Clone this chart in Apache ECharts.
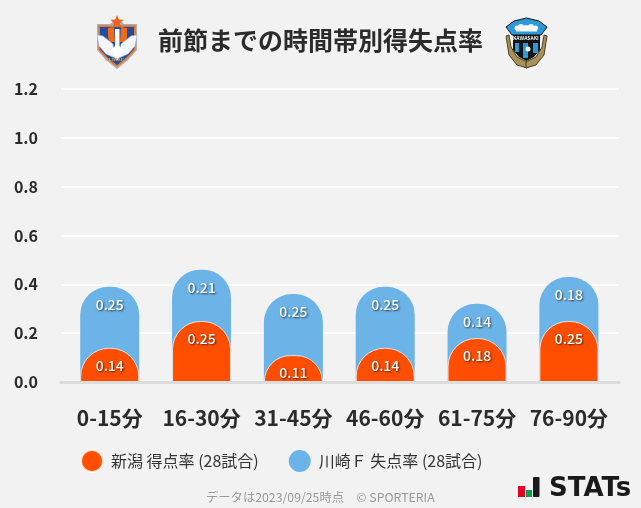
<!DOCTYPE html>
<html><head><meta charset="utf-8">
<style>html,body{margin:0;padding:0;background:#f2f2f2}#c{width:641px;height:508px}</style>
<script src="https://cdn.jsdelivr.net/npm/echarts@6/dist/echarts.min.js"></script></head>
<body><div id="c"></div>
<script>
const categories = ['0-15分','16-30分','31-45分','46-60分','61-75分','76-90分'];
const scored = [0.14,0.25,0.11,0.14,0.18,0.25];
const conceded = [0.25,0.21,0.25,0.25,0.14,0.18];
const scoredName = '新潟 得点率 (28試合)';
const concededName = '川崎Ｆ 失点率 (28試合)';
const ORANGE='#ff4e00', BLUE='#6cb4e8';
const FONT='"Noto Sans CJK JP","Noto Sans",sans-serif';
const stackedTop = conceded.map((v,i)=>+(v+scored[i]).toFixed(2));
const label = (fmt)=>({show:true,position:'insideTop',distance:11,color:'#fff',fontFamily:FONT,fontSize:14,fontWeight:500,
  textShadowColor:'rgba(0,0,0,0.65)',textShadowBlur:2,textShadowOffsetX:1,textShadowOffsetY:1,formatter:fmt});
const poly=(pts,fill,stroke,lw)=>({type:'polygon',silent:true,shape:{points:pts},style:{fill:fill,stroke:stroke||null,lineWidth:lw||0}});
const mirror=(pts,cx)=>pts.map(p=>[2*cx-p[0],p[1]]);
const star=(cx,cy,R,r)=>{const a=[];for(let i=0;i<10;i++){const t=-Math.PI/2+i*Math.PI/5,q=i%2?r:R;a.push([cx+q*Math.cos(t),cy+q*Math.sin(t)]);}return a;};
const dot=(cx,cy,r,fill)=>({type:'circle',silent:true,shape:{cx:cx,cy:cy,r:r},style:{fill:fill}});
const box=(x,y,w,h,fill)=>({type:'rect',silent:true,shape:{x:x,y:y,width:w,height:h},style:{fill:fill}});
const wingL=[[97,35],[103,36],[113,44],[115,58],[106,54],[99,46]];
const blobL=[[108,28],[114,27],[115,42],[110,42],[108,38]];
const niigata=[
  poly([[97,24],[110,24],[117,18],[124,24],[137,24],[137,50],[128,60],[117,69],[106,60],[97,50]],'#a9adb5'),
  poly([[98.5,25.5],[135.5,25.5],[135.5,50],[127,59],[117,67],[107,59],[98.5,50]],'#f0701e'),
  poly([[100,27],[134,27],[134,49],[126,58],[117,65],[108,58],[100,49]],'#1f4f9f'),
  poly(star(117,22,7,3),'#f0601a'),
  poly(blobL,'#ef6a1c'),
  poly(mirror(blobL,117.5),'#ef6a1c'),
  poly(wingL,'#f4f6fb','#9db4d8',0.6),
  poly(mirror(wingL,117),'#f4f6fb','#9db4d8',0.6),
  poly([[115,29],[119.5,29],[119.5,46],[123,50],[118,60],[116,60],[111,50],[115,46]],'#ffffff'),
  {type:'text',silent:true,left:105,top:57,style:{text:'ALBIREX',fontFamily:'"Liberation Serif",serif',fontWeight:700,fontSize:5,fill:'#c8a45c'}}
];
const wreathL=[[506,36],[509,35],[511,47],[517,57],[527,62],[527,68],[517,65],[509,55]];
const kawasaki=[
  poly(wreathL,'#a8925a','#4b3f22',1),
  poly(mirror(wreathL,526.5),'#a8925a','#4b3f22',1),
  poly([[513,33],[540,33],[540,50],[534,57],[526.5,61],[519,57],[513,50]],'#141414'),
  box(515,43,4,9,'#2d9ad6'),
  box(523,43,5,15,'#2d9ad6'),
  box(533,43,5,10,'#2d9ad6'),
  dot(528,49,2.5,'#f4f4f4'),
  poly([[506,27],[514,21],[526.5,18],[539,21],[547,27],[541,35],[512,35]],'#2d9ad6','#141414',1),
  dot(517,28,2.5,'#f4f8fa'),dot(521,27,3,'#f4f8fa'),dot(526,28,3,'#f4f8fa'),dot(531,27,3,'#f4f8fa'),dot(535.5,28,2.5,'#f4f8fa'),
  box(516,28,21,3.5,'#f4f8fa'),
  {type:'text',silent:true,left:513,top:36,style:{text:'KAWASAKI',fontFamily:FONT,fontWeight:700,fontSize:5,fill:'#f0f0f0'}}
];
const chart = echarts.init(document.getElementById('c'),null,{renderer:'canvas'});
chart.setOption({
  animation:false,
  backgroundColor:'#f2f2f2',
  title:{text:'前節までの時間帯別得失点率',left:320.5,top:28,textAlign:'center',padding:0,
    textStyle:{fontFamily:FONT,fontSize:25,fontWeight:700,color:'#2b2b2b'}},
  legend:{data:[scoredName,concededName],left:80,top:449,padding:0,icon:'circle',itemWidth:22,itemHeight:22,itemGap:30,
    textStyle:{fontFamily:FONT,fontSize:16,color:'#333',padding:[0,0,0,3]}},
  grid:[{left:63.8,width:551,top:89,height:293},{left:61,width:558,top:89,height:293}],
  xAxis:[
    {type:'category',gridIndex:0,data:categories,axisLine:{show:false},axisTick:{show:false},
     axisLabel:{interval:0,fontFamily:FONT,fontSize:21,fontWeight:700,color:'#2b2b2b',margin:26}},
    {type:'value',gridIndex:1,min:0,max:1,offset:1,axisLine:{show:true,lineStyle:{color:'#dcdcdc',width:3}},axisTick:{show:false},axisLabel:{show:false},splitLine:{show:false}}
  ],
  yAxis:[
    {type:'value',gridIndex:0,min:0,max:1.2,interval:0.2,show:false},
    {type:'value',gridIndex:1,min:0,max:1.2,interval:0.2,axisLine:{show:false},axisTick:{show:false},
     splitLine:{lineStyle:{color:'#ffffff',width:2}},
     axisLabel:{fontFamily:FONT,fontSize:16,fontWeight:700,color:'#2b2b2b',margin:23,align:'right',formatter:(v)=>v.toFixed(1)}}
  ],
  series:[
    {name:concededName,type:'bar',data:stackedTop,barWidth:59,barGap:'-100%',z:3,
      itemStyle:{color:BLUE,borderRadius:[28,28,0,0]},
      label:label(p=>conceded[p.dataIndex].toFixed(2))},
    {name:scoredName,type:'bar',data:scored,barWidth:59,barGap:'-100%',z:4,
      itemStyle:{color:ORANGE,borderRadius:[28,28,0,0],borderColor:'rgba(255,255,255,0.75)',borderWidth:1},
      label:label(p=>p.value.toFixed(2))}
  ],
  graphic:[
    {type:'group',silent:true,children:niigata},
    {type:'group',silent:true,children:kawasaki},
    {type:'text',silent:true,left:206,top:491,style:{text:'データは2023/09/25時点　© SPORTERIA',fontFamily:FONT,fontSize:12.3,fill:'#999'}},
    {type:'text',silent:true,left:549,top:476,style:{text:'STATs',fontFamily:'"DejaVu Sans",sans-serif',fontWeight:700,fontSize:26,fill:'#1a1a1a'}},
    {type:'rect',silent:true,shape:{x:518,y:486,width:7,height:11},style:{fill:'#e60026'}},
    {type:'rect',silent:true,shape:{x:526,y:490,width:6,height:7},style:{fill:'#0aa14e'}},
    {type:'rect',silent:true,shape:{x:533,y:477,width:6.5,height:20,r:1},style:{fill:'#1a1a1a'}}
  ]
});
</script></body></html>
